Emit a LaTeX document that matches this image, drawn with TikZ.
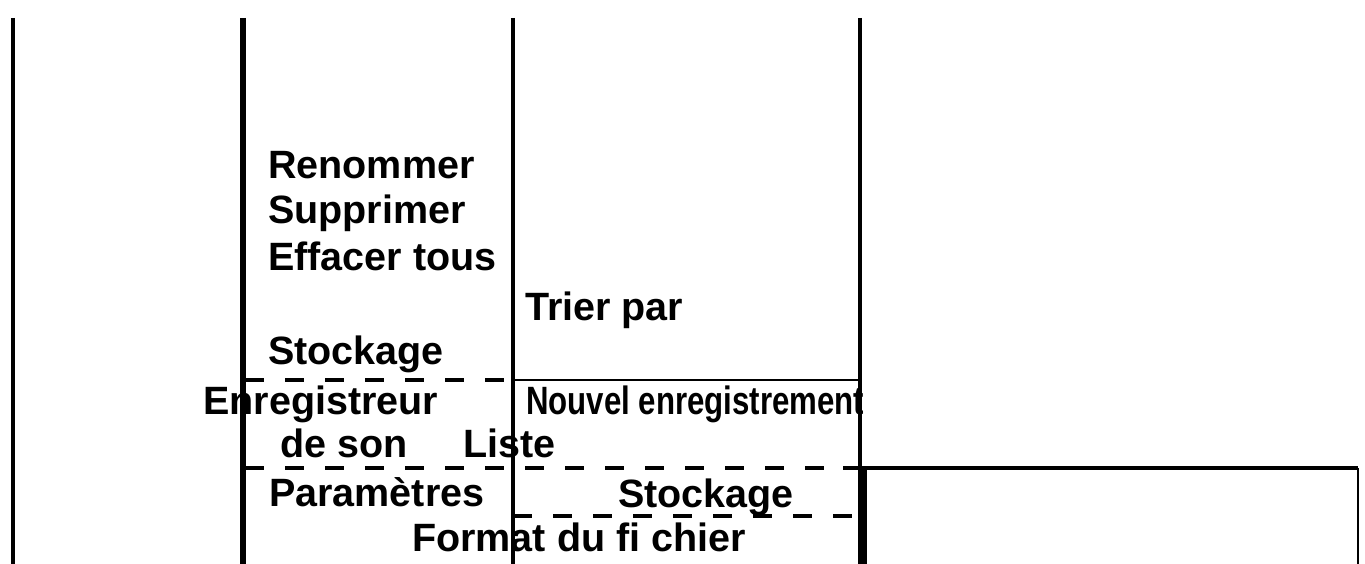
\documentclass[tikz,border=0pt]{standalone}
\usepackage{graphicx}
\usepackage{fontspec}
\setmainfont{Liberation Sans}
\usetikzlibrary{positioning}

\tikzset{
	lbl/.style={anchor=base west, inner sep=0pt, font=\fontsize{39.5}{46}\selectfont\bfseries},
	dsh/.style={line width=4.5pt, dash pattern=on 19pt off 21pt},
}

\begin{document}
\begin{tikzpicture}[x=1pt, y=-1pt]
\useasboundingbox (0,0) rectangle (1365,564);
% vertical rules
\foreach \xv/\w in {13/4, 243/6, 513/4, 860/4}{
	\draw[line width=\w pt] (\xv,18) -- (\xv,564);
}
\draw[line width=7pt] (861,468) -- (861,564);
% horizontal rules
\draw[line width=2.5pt] (513,380) -- (860,380);
\draw[dsh] (245,380) -- (513,380);
\draw[dsh] (245,468) -- (860,468);
\draw[dsh] (513,516) -- (860,516);
% box on the right
\draw[line width=4pt] (843,468) -- (1358,468);
\draw[line width=2pt] (1358,468) -- (1358,564);
\draw[line width=1.5pt] (866,470) -- (866,564);

\node[lbl] (ren) at (268,179) {Renommer};
\node[lbl] (sup) at (268,223) {Supprimer};
\node[lbl] (eff) at (268,270) {Effacer tous};
\node[lbl] (sto) at (268,364) {Stockage};
\node[lbl] (tri) at (525,320) {Trier par};
\node[lbl] (enr) at (203,414) {Enregistreur};
\node[lbl] (nou) at (526,414) {\scalebox{0.79}[1]{Nouvel enregistrement}};
\node[lbl] (son) at (280,457) {de son};
\node[lbl] (lis) at (463,457) {Liste};
\node[lbl] (par) at (269,506) {Paramètres};
\node[lbl] (stb) at (618,507) {Stockage};
\node[lbl] (fmt) at (412,551) {Format du fi chier};
\end{tikzpicture}
\end{document}
